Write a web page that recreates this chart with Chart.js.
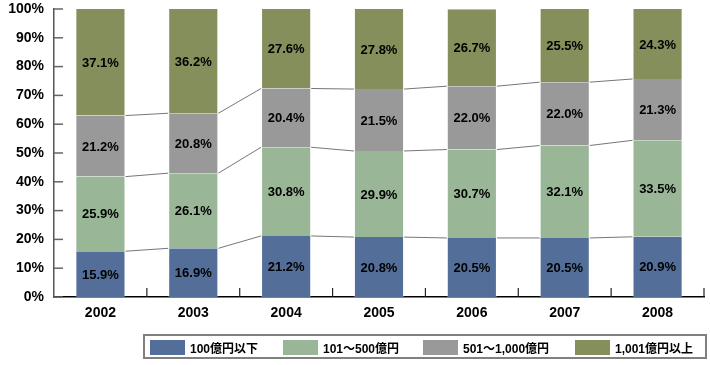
<!DOCTYPE html>
<html>
<head>
<meta charset="utf-8">
<script src="https://cdn.jsdelivr.net/npm/chart.js@4/dist/chart.umd.min.js"></script>
<style>
  html, body { margin: 0; padding: 0; background: #fff; }
  #wrap { position: relative; width: 710px; height: 365px; }
  canvas { display: block; }
  #legend {
    position: absolute; left: 143px; top: 334px; width: 560px; height: 21px;
    border: 2px solid #808080;
    font-family: "Liberation Sans", Arial, "Noto Sans CJK JP", sans-serif;
    font-weight: bold; font-size: 12px; color: #000;
    box-sizing: content-box;
  }
  .li { display: flex; align-items: center; white-space: nowrap; }
  .li .sw { width: 35px; height: 15px; margin-right: 5px; flex: none; }
</style>
</head>
<body>
<div id="wrap">
  <canvas id="c" width="710" height="365"></canvas>
  <div id="legend"></div>
</div>
<script>
const categories = ['2002', '2003', '2004', '2005', '2006', '2007', '2008'];
const seriesNames = ['100億円以下', '101～500億円', '501～1,000億円', '1,001億円以上'];
const under100 = [15.9, 16.9, 21.2, 20.8, 20.5, 20.5, 20.9];
const from101to500 = [25.9, 26.1, 30.8, 29.9, 30.7, 32.1, 33.5];
const from501to1000 = [21.2, 20.8, 20.4, 21.5, 22.0, 22.0, 21.3];
const over1001 = [37.1, 36.2, 27.6, 27.8, 26.7, 25.5, 24.3];
const yTicks = [0, 10, 20, 30, 40, 50, 60, 70, 80, 90, 100];
const colors = ['#536f99', '#99b797', '#999999', '#848f5b'];

const seriesValues = [under100, from101to500, from501to1000, over1001];

// HTML legend
const legendEl = document.getElementById('legend');
const legendLefts = [5, 138, 278, 430];
seriesNames.forEach((n, i) => {
  const d = document.createElement('div');
  d.className = 'li';
  d.style.position = 'absolute';
  d.style.left = legendLefts[i] + 'px';
  d.style.top = '3px';
  d.innerHTML = '<div class="sw" style="background:' + colors[i] + '"></div><span>' + n + '</span>';
  legendEl.appendChild(d);
});

const FONT = '"Liberation Sans", Arial, sans-serif';

const innerTicks = {
  id: 'innerTicks',
  afterDraw(chart) {
    const ctx = chart.ctx;
    const x = chart.scales.x, y = chart.scales.y;
    const area = chart.chartArea;
    ctx.save();
    ctx.strokeStyle = '#666';
    ctx.lineWidth = 1.5;
    yTicks.forEach(v => {
      const py = y.getPixelForValue(v);
      ctx.beginPath();
      ctx.moveTo(area.left, py);
      ctx.lineTo(area.left + 9, py);
      ctx.stroke();
    });
    ctx.strokeStyle = '#222';
    ctx.lineWidth = 1.2;
    const half = (x.getPixelForValue(1) - x.getPixelForValue(0)) / 2;
    for (let i = 0; i < categories.length; i++) {
      const px = x.getPixelForValue(i) + half;
      ctx.beginPath();
      ctx.moveTo(px, area.bottom);
      ctx.lineTo(px, area.bottom - 9);
      ctx.stroke();
    }
    ctx.restore();
  }
};

const connectors = {
  id: 'connectors',
  afterDatasetsDraw(chart) {
    const ctx = chart.ctx;
    ctx.save();
    ctx.strokeStyle = '#666';
    ctx.lineWidth = 0.9;
    for (let d = 0; d < 3; d++) {
      const meta = chart.getDatasetMeta(d);
      for (let i = 0; i < meta.data.length - 1; i++) {
        const a = meta.data[i], b = meta.data[i + 1];
        ctx.beginPath();
        ctx.moveTo(a.x + a.width / 2, a.y);
        ctx.lineTo(b.x - b.width / 2, b.y);
        ctx.stroke();
      }
    }
    ctx.restore();
  }
};

const valueLabels = {
  id: 'valueLabels',
  afterDatasetsDraw(chart) {
    const ctx = chart.ctx;
    ctx.save();
    ctx.font = 'bold 13px ' + FONT;
    ctx.fillStyle = '#000';
    ctx.textAlign = 'center';
    ctx.textBaseline = 'middle';
    chart.data.datasets.forEach((ds, d) => {
      const meta = chart.getDatasetMeta(d);
      meta.data.forEach((el, i) => {
        const cy = (el.y + el.base) / 2;
        ctx.fillText(ds.data[i].toFixed(1) + '%', el.x, cy + 1);
      });
    });
    ctx.restore();
  }
};

new Chart(document.getElementById('c'), {
  type: 'bar',
  data: {
    labels: categories,
    datasets: seriesValues.map((vals, i) => ({
      label: seriesNames[i],
      data: vals,
      backgroundColor: colors[i],
      borderColor: 'rgba(255,255,255,0.35)',
      borderWidth: { left: 1, right: 1, top: 0, bottom: 0 },
      borderSkipped: false,
      barPercentage: 0.54,
      categoryPercentage: 1.0
    }))
  },
  options: {
    responsive: false,
    animation: false,
    devicePixelRatio: 1,
    layout: { padding: { left: 0, right: 6, top: 9, bottom: 40 } },
    plugins: { legend: { display: false }, tooltip: { enabled: false } },
    scales: {
      x: {
        stacked: true,
        grid: { display: false, drawTicks: false },
        border: { display: true, color: '#000', width: 1.5 },
        ticks: { color: '#000', font: { family: FONT, size: 14, weight: 'bold' }, padding: 8 },
        afterFit(s) { s.height = 28; s.paddingLeft = 0; s.paddingRight = 0; }
      },
      y: {
        stacked: true,
        min: 0, max: 100,
        afterBuildTicks(s) { s.ticks = yTicks.map(v => ({ value: v })); },
        grid: { display: false, drawTicks: false },
        border: { display: true, color: '#555', width: 1.5 },
        ticks: {
          color: '#000', font: { family: FONT, size: 14, weight: 'bold' }, padding: 10,
          callback: v => v + '%'
        },
        afterFit(s) { s.width = 54; s.paddingTop = 0; s.paddingBottom = 0; }
      }
    }
  },
  plugins: [connectors, valueLabels, innerTicks]
});
</script>
</body>
</html>
